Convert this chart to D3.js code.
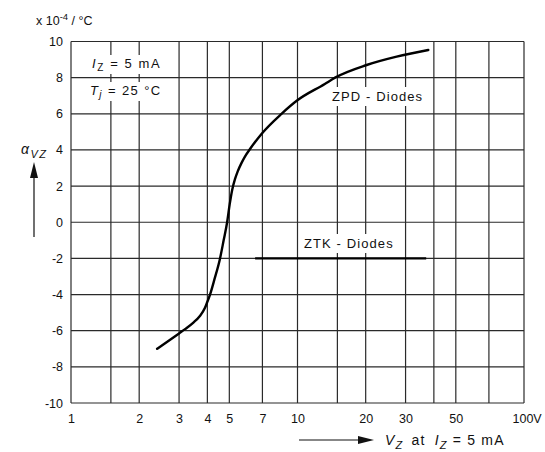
<!DOCTYPE html>
<html>
<head>
<meta charset="utf-8">
<script src="https://cdn.jsdelivr.net/npm/d3@7"></script>
<style>
  html, body { margin: 0; padding: 0; background: #fff; }
  svg { display: block; }
  text { font-family: "Liberation Sans", Arial, sans-serif; fill: #111; }
</style>
</head>
<body>
<svg id="chart" width="545" height="452"></svg>
<script>
// Grid positions (zener voltage, V) on the log axis
const gridVoltages = [1, 1.5, 2, 3, 4, 5, 7, 10, 15, 20, 30, 40, 50, 70, 100];
// Labelled voltages along the bottom
const xTickValues = [1, 2, 3, 4, 5, 7, 10, 20, 30, 50, 100];
// Temperature coefficient ticks, x 10^-4 / °C
const yTickValues = [-10, -8, -6, -4, -2, 0, 2, 4, 6, 8, 10];

// ZPD-Diodes: temperature coefficient vs zener voltage
const zpdVoltage = [2.4, 3.0, 3.2, 3.47, 3.7, 3.9, 4.0, 4.11, 4.3, 4.55, 4.72, 4.89, 5.02, 5.15, 5.3, 5.44, 5.67, 5.87, 6.17, 6.95, 8.5, 9.92, 13.2, 14.65, 20.2, 27.4, 37.8];
const zpdAlpha   = [-7.0, -6.15, -5.9, -5.55, -5.2, -4.75, -4.4, -4.0, -3.15, -2.0, -1.0, 0, 1.0, 1.8, 2.4, 2.8, 3.3, 3.65, 4.05, 4.9, 6.0, 6.72, 7.65, 8.0, 8.7, 9.16, 9.53];

// ZTK-Diodes: constant coefficient
const ztkVoltage = [6.5, 37];
const ztkAlpha   = [-2, -2];

const svg = d3.select("#chart");
const plotLeft = 71, plotRight = 524, plotTop = 41.5, plotBottom = 403;

const x = d3.scaleLog().domain([1, 100]).range([plotLeft, plotRight]);
const y = d3.scaleLinear().domain([-10, 10]).range([plotBottom, plotTop]);

const gridColor = "#2a2a2a";

// Vertical grid lines
svg.append("g").selectAll("line").data(gridVoltages).join("line")
  .attr("x1", d => x(d)).attr("x2", d => x(d))
  .attr("y1", y(-10)).attr("y2", y(10))
  .attr("stroke", gridColor).attr("stroke-width", 1.2);

// Horizontal grid lines
svg.append("g").selectAll("line").data(yTickValues).join("line")
  .attr("x1", x(1)).attr("x2", x(100))
  .attr("y1", d => y(d)).attr("y2", d => y(d))
  .attr("stroke", gridColor).attr("stroke-width", 1.2);

// Y axis tick labels
const yAxis = d3.axisLeft(y).tickValues(yTickValues).tickSize(0).tickPadding(8)
  .tickFormat(d => d);
const gy = svg.append("g").attr("transform", `translate(${plotLeft},0)`).call(yAxis);
gy.select(".domain").remove();
gy.selectAll("text").attr("font-size", 12.5).attr("font-family", "Liberation Sans, Arial, sans-serif")
  .attr("fill", "#111");

// X axis tick labels
const xAxis = d3.axisBottom(x).tickValues(xTickValues).tickSize(0).tickPadding(11)
  .tickFormat(d => d === 100 ? "100V" : d);
const gx = svg.append("g").attr("transform", `translate(0,${plotBottom})`).call(xAxis);
gx.select(".domain").remove();
gx.selectAll("text").attr("font-size", 12.5).attr("font-family", "Liberation Sans, Arial, sans-serif")
  .attr("fill", "#111");
gx.selectAll(".tick").filter(d => d === 100).select("text")
  .attr("text-anchor", "start").attr("dx", -12);

// Label with white backing box
function boxedLabel(px, py, build, pad, spacing) {
  const g = svg.append("g");
  const rect = g.append("rect").attr("fill", "#fff");
  const t = g.append("text").attr("x", px).attr("y", py).attr("font-size", 13)
    .attr("letter-spacing", spacing);
  build(t);
  const bb = t.node().getBBox();
  rect.attr("x", bb.x - pad).attr("y", bb.y - pad + 1)
    .attr("width", bb.width + 2 * pad).attr("height", bb.height + 2 * pad - 2);
  return g;
}

const line = d3.line().x(d => x(d[0])).y(d => y(d[1])).curve(d3.curveMonotoneX);

// Curves
svg.append("path").datum(d3.zip(zpdVoltage, zpdAlpha))
  .attr("d", line).attr("fill", "none").attr("stroke", "#000").attr("stroke-width", 2.4)
  .attr("stroke-linecap", "round");
svg.append("path").datum(d3.zip(ztkVoltage, ztkAlpha))
  .attr("d", d3.line().x(d => x(d[0])).y(d => y(d[1])))
  .attr("fill", "none").attr("stroke", "#000").attr("stroke-width", 2.4);

// Series labels
boxedLabel(332, 101, t => t.text("ZPD - Diodes"), 3, 1.1);
boxedLabel(304, 248, t => t.text("ZTK - Diodes"), 3, 1.1);

// Measurement conditions
boxedLabel(92, 68, t => {
  t.append("tspan").attr("font-style", "italic").text("I");
  t.append("tspan").attr("font-size", 10).attr("dy", 3).text("Z");
  t.append("tspan").attr("dy", -3).text(" = 5 mA");
}, 2, 1.6);
boxedLabel(90, 95, t => {
  t.append("tspan").attr("font-style", "italic").text("T");
  t.append("tspan").attr("font-size", 10).attr("dy", 3).attr("font-style", "italic").text("j");
  t.append("tspan").attr("dy", -3).text(" = 25 °C");
}, 2, 1.4);

// Unit label
const unit = svg.append("text").attr("x", 36).attr("y", 25).attr("font-size", 12.5);
unit.append("tspan").text("x 10");
unit.append("tspan").attr("font-size", 9.5).attr("dy", -5).text("-4");
unit.append("tspan").attr("dy", 5).text(" / °C");

// Y axis title with upward arrow
const ay = svg.append("text").attr("x", 21).attr("y", 154).attr("font-size", 14)
  .attr("letter-spacing", 1.5);
ay.append("tspan").attr("font-style", "italic").text("α");
ay.append("tspan").attr("font-size", 11).attr("dy", 4).attr("font-style", "italic").text("VZ");
svg.append("line").attr("x1", 34).attr("x2", 34).attr("y1", 237).attr("y2", 176)
  .attr("stroke", "#111").attr("stroke-width", 1.2);
svg.append("path").attr("d", "M34,162 L30,178 L38,178 Z").attr("fill", "#111");

// X axis title with rightward arrow
svg.append("line").attr("x1", 299).attr("x2", 360).attr("y1", 440).attr("y2", 440)
  .attr("stroke", "#111").attr("stroke-width", 1.2);
svg.append("path").attr("d", "M374,440 L358,436 L358,444 Z").attr("fill", "#111");
const ax = svg.append("text").attr("x", 385).attr("y", 445).attr("font-size", 14)
  .attr("letter-spacing", 1.2);
ax.append("tspan").attr("font-style", "italic").text("V");
ax.append("tspan").attr("font-size", 11).attr("dy", 4).attr("font-style", "italic").text("Z");
ax.append("tspan").attr("dy", -4).attr("dx", 8).text("at ");
ax.append("tspan").attr("dx", 4).attr("font-style", "italic").text("I");
ax.append("tspan").attr("font-size", 11).attr("dy", 4).attr("font-style", "italic").text("Z");
ax.append("tspan").attr("dy", -4).text(" = 5 mA");
</script>
</body>
</html>
